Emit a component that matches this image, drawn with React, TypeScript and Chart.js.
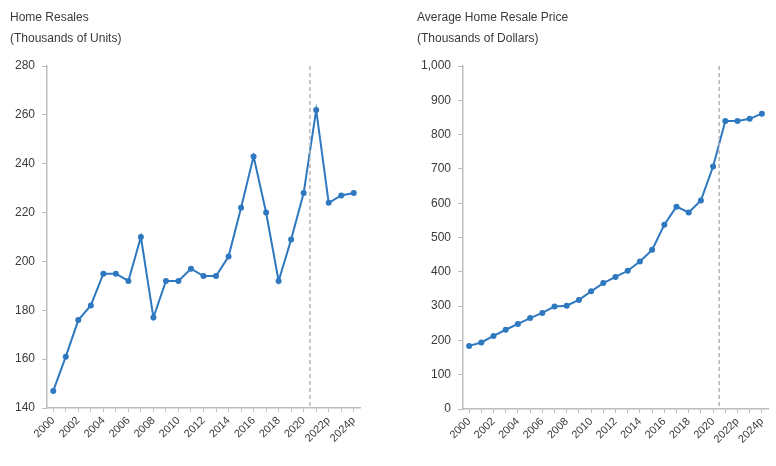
import React, { useEffect, useRef } from "react";
import { Chart, registerables } from "chart.js";

Chart.register(...registerables);

const years = [
  "2000", "2001", "2002", "2003", "2004", "2005", "2006", "2007", "2008", "2009",
  "2010", "2011", "2012", "2013", "2014", "2015", "2016", "2017", "2018", "2019",
  "2020", "2021", "2022p", "2023p", "2024p",
];

const resales = [
  147, 161, 176, 182, 195, 195, 192, 210, 177, 192,
  192, 197, 194, 194, 202, 222, 243, 220, 192, 209,
  228, 262, 224, 227, 228,
];

const prices = [
  184, 194, 213, 231, 248, 265, 280, 299, 301, 318,
  343, 367, 385, 403, 430, 464, 537, 590, 573, 608,
  707, 840, 840, 846, 861,
];

// Forecast divider sits between 2020 and 2021 (category index 20.5)
const forecastDivider = 20.5;

const resalesTicks = { min: 140, max: 280, step: 20 };
const priceTicks = { min: 0, max: 1000, step: 100 };

const LINE = "#2e78c0";
const AXIS = "#bdbdbd";
const TEXT = "#3a3a3a";
const FONT = "'Liberation Sans', Arial, sans-serif";

const dividerPlugin = {
  id: "divider",
  afterDatasetsDraw(chart: any) {
    const x = chart.scales.x.getPixelForValue(forecastDivider);
    const { top, bottom } = chart.chartArea;
    const ctx = chart.ctx;
    ctx.save();
    ctx.strokeStyle = "#b5b5b5";
    ctx.lineWidth = 1.5;
    ctx.setLineDash([4, 3]);
    ctx.beginPath();
    ctx.moveTo(x, top);
    ctx.lineTo(x, bottom);
    ctx.stroke();
    ctx.restore();
  },
};

function makeConfig(
  data: number[],
  yr: { min: number; max: number; step: number },
  yWidth: number,
  xHeight: number,
  padRight: number
): any {
  return {
    type: "line",
    data: {
      labels: years,
      datasets: [
        {
          data,
          borderColor: LINE,
          backgroundColor: LINE,
          borderWidth: 2,
          pointRadius: 3,
          pointStyle: "circle",
          pointBorderWidth: 0,
          tension: 0,
        },
      ],
    },
    plugins: [dividerPlugin],
    options: {
      responsive: false,
      animation: false,
      layout: { padding: { left: 0, right: padRight, top: 66, bottom: 0 } },
      plugins: { legend: { display: false }, tooltip: { enabled: false }, title: { display: false } },
      scales: {
        x: {
          type: "category",
          offset: true,
          afterFit: (s: any) => {
            s.height = xHeight;
          },
          grid: {
            display: true,
            drawOnChartArea: false,
            drawTicks: true,
            tickLength: 4,
            color: AXIS,
            offset: false,
          },
          border: { display: true, color: AXIS, width: 1.5 },
          ticks: {
            autoSkip: false,
            maxRotation: 45,
            minRotation: 45,
            padding: 2,
            color: TEXT,
            font: { family: FONT, size: 11 },
            callback: function (this: any, value: any, index: number) {
              return index % 2 === 0 ? this.getLabelForValue(value) : "";
            },
          },
        },
        y: {
          min: yr.min,
          max: yr.max,
          afterFit: (s: any) => {
            s.width = yWidth;
          },
          grid: {
            display: true,
            drawOnChartArea: false,
            drawTicks: true,
            tickLength: 5,
            color: AXIS,
          },
          border: { display: true, color: AXIS, width: 1.5 },
          ticks: {
            stepSize: yr.step,
            padding: 7,
            color: TEXT,
            font: { family: FONT, size: 12 },
            callback: (v: any) => Number(v).toLocaleString("en-US"),
          },
        },
      },
    },
  };
}

function Panel(props: {
  left: number;
  width: number;
  title: string[];
  data: number[];
  yr: { min: number; max: number; step: number };
  yWidth: number;
  xHeight: number;
  padRight: number;
  titleLeft: number;
}) {
  const ref = useRef<HTMLCanvasElement | null>(null);
  useEffect(() => {
    if (!ref.current) return;
    const chart = new Chart(
      ref.current,
      makeConfig(props.data, props.yr, props.yWidth, props.xHeight, props.padRight)
    );
    return () => chart.destroy();
  }, []);
  return (
    <div style={{ position: "absolute", left: props.left, top: 0, width: props.width, height: 466 }}>
      <canvas ref={ref} width={props.width} height={466} style={{ width: props.width, height: 466, display: "block" }} />
      <div
        style={{
          position: "absolute",
          left: props.titleLeft,
          top: 7,
          fontFamily: FONT,
          fontSize: 12,
          lineHeight: "21px",
          color: TEXT,
          whiteSpace: "nowrap",
        }}
      >
        {props.title.map((t, i) => (
          <div key={i}>{t}</div>
        ))}
      </div>
    </div>
  );
}

export default function App() {
  return (
    <div style={{ position: "absolute", left: 0, top: 0, width: 776, height: 466, background: "#fff" }}>
      <Panel
        left={0}
        width={388}
        title={["Home Resales", "(Thousands of Units)"]}
        data={resales}
        yr={resalesTicks}
        yWidth={47}
        xHeight={58}
        padRight={28}
        titleLeft={10}
      />
      <Panel
        left={400}
        width={376}
        title={["Average Home Resale Price", "(Thousands of Dollars)"]}
        data={prices}
        yr={priceTicks}
        yWidth={63}
        xHeight={57}
        padRight={8}
        titleLeft={17}
      />
    </div>
  );
}
